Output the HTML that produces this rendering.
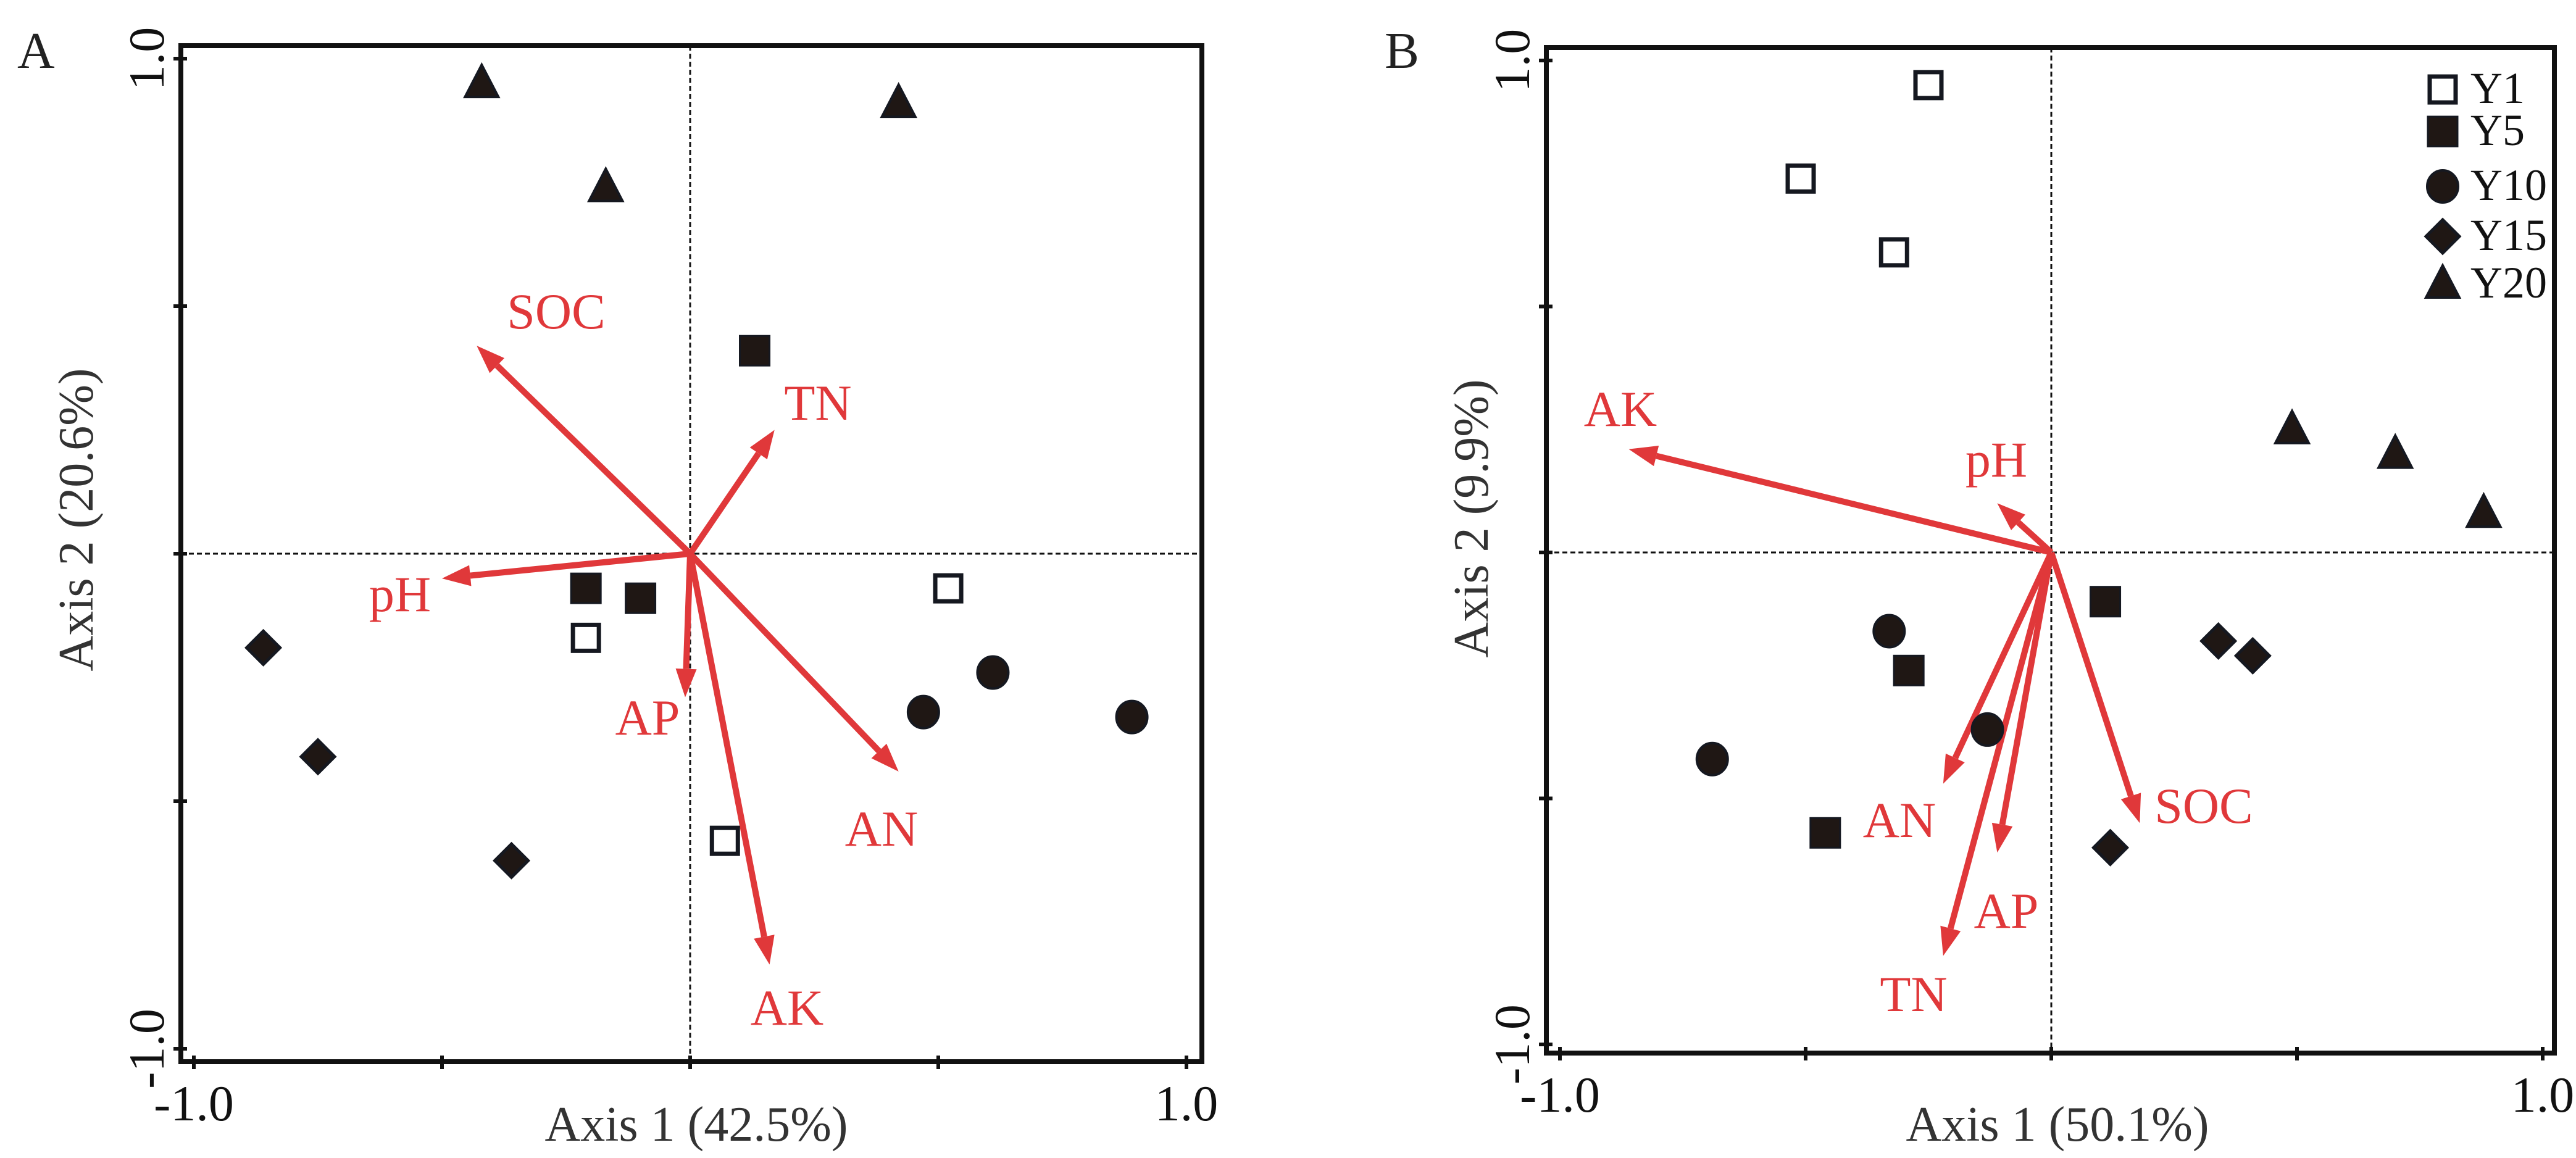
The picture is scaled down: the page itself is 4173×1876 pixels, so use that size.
<!DOCTYPE html>
<html><head><meta charset="utf-8"><style>
html,body{margin:0;padding:0;background:#fff}
svg{display:block}
text{font-family:"Liberation Serif",serif}
</style></head><body>
<svg id="fig" width="4173" height="1876" viewBox="0 0 4173 1876" xmlns="http://www.w3.org/2000/svg"></svg>
<script>
// ---- Panel A data ----
const groups = ["Y1","Y5","Y10","Y15","Y20"];
const shapesByGroup = ["openSquare","square","circle","diamond","triangle"];
const aY1x = [0.52,-0.21,0.07];  const aY1y = [-0.07,-0.17,-0.58];
const aY5x = [0.13,-0.21,-0.10]; const aY5y = [0.41,-0.07,-0.09];
const aY10x = [0.47,0.61,0.89];  const aY10y = [-0.32,-0.24,-0.33];
const aY15x = [-0.86,-0.75,-0.36]; const aY15y = [-0.19,-0.41,-0.62];
const aY20x = [-0.42,-0.17,0.42]; const aY20y = [0.95,0.74,0.91];
const aVarNames = ["SOC","TN","pH","AP","AN","AK"];
const aVarX = [-0.43,0.17,-0.50,-0.01,0.42,0.16];
const aVarY = [0.42,0.25,-0.05,-0.29,-0.44,-0.83];
// ---- Panel B data ----
const bY1x = [-0.25,-0.51,-0.32]; const bY1y = [0.95,0.76,0.61];
const bY5x = [0.11,-0.29,-0.46];  const bY5y = [-0.10,-0.24,-0.57];
const bY10x = [-0.33,-0.13,-0.69]; const bY10y = [-0.16,-0.36,-0.42];
const bY15x = [0.34,0.41,0.12];   const bY15y = [-0.18,-0.21,-0.60];
const bY20x = [0.49,0.70,0.88];   const bY20y = [0.25,0.20,0.08];
const bVarNames = ["AK","pH","AN","AP","TN","SOC"];
const bVarX = [-0.86,-0.11,-0.22,-0.11,-0.22,0.18];
const bVarY = [0.21,0.10,-0.47,-0.61,-0.82,-0.55];
const tickVals = [-1,-0.5,0,0.5,1];
const tickLabels = ["-1.0","","","","1.0"];

const NS="http://www.w3.org/2000/svg";
const svg=document.getElementById('fig');
function el(tag,attrs,parent){const e=document.createElementNS(NS,tag);for(const k in attrs)e.setAttribute(k,attrs[k]);(parent||svg).appendChild(e);return e;}
const RED="#e0383a";

function panel(cfg){
  const g=el('g',{});
  
  
  const sx=v=>cfg.x0+v*cfg.ux, sy=v=>cfg.y0-v*cfg.uy;
  const fr=el('rect',{x:cfg.L,y:cfg.T,width:cfg.R-cfg.L,height:cfg.B-cfg.T,fill:'none',stroke:'#111','stroke-width':8},g);
  
  const h=el('line',{x1:cfg.L,x2:cfg.R,y1:sy(0),y2:sy(0),stroke:'#111','stroke-width':3,'stroke-dasharray':'8,5'},g);
  
  const v=el('line',{x1:sx(0),x2:sx(0),y1:cfg.T,y2:cfg.B,stroke:'#111','stroke-width':3,'stroke-dasharray':'8,5'},g);
  
  tickVals.forEach((t,i)=>{
    const tx=el('line',{x1:sx(t),x2:sx(t),y1:cfg.B-10,y2:cfg.B+12,stroke:'#111','stroke-width':6},g);
    
    const ty=el('line',{x1:cfg.L-12,x2:cfg.L+10,y1:sy(t),y2:sy(t),stroke:'#111','stroke-width':6},g);
    
    if(tickLabels[i]){
      const lx=el('text',{x:sx(t),y:cfg.B+95,'font-size':82,'text-anchor':'middle',fill:'#111'},g);
      lx.textContent=tickLabels[i];
      
      const ly=el('text',{x:0,y:0,'font-size':82,'text-anchor':'middle',fill:'#111',transform:`translate(${cfg.L-28},${sy(t)}) rotate(-90)`},g);
      ly.textContent=tickLabels[i];
      
    }
  });
  const xt=el('text',{x:sx(0)+10,y:1848,'font-size':80,'text-anchor':'middle',fill:'#333'},g);
  xt.textContent=cfg.xTitle;
  const yt=el('text',{x:0,y:0,'font-size':80,'text-anchor':'middle',fill:'#333',transform:`translate(${cfg.yTitleX},${sy(0)-55}) rotate(-90)`},g);
  yt.textContent=cfg.yTitle;
  const pl=el('text',{x:cfg.letterX,y:110,'font-size':84,fill:'#222'},g);
  pl.textContent=cfg.letter;
  cfg.varNames.forEach((n,i)=>{
    const x2=sx(cfg.varX[i]),y2=sy(cfg.varY[i]),x1=sx(0),y1=sy(0);
    const ang=Math.atan2(y2-y1,x2-x1),L=46,W=17;
    const bx=x2-L*Math.cos(ang),by=y2-L*Math.sin(ang);
    const ln=el('line',{x1:x1,y1:y1,x2:bx,y2:by,stroke:RED,'stroke-width':10},g);
    
    const p=el('polygon',{points:`${x2},${y2} ${bx-W*Math.sin(ang)},${by+W*Math.cos(ang)} ${bx+W*Math.sin(ang)},${by-W*Math.cos(ang)}`,fill:RED},g);
    
    const lp=cfg.labelPos[i];
    const t=el('text',{x:lp[0],y:lp[1],'font-size':82,'text-anchor':'middle',fill:RED},g);
    t.textContent=n;
  });
  cfg.pts.forEach((grp,gi)=>{
    grp[0].forEach((vx,j)=>{
      const m=marker(shapesByGroup[gi],sx(vx),sy(grp[1][j]),g);
      
      
    });
  });
}
function marker(shape,x,y,g){
  const s=24;
  if(shape==='openSquare')return el('rect',{x:x-s+3,y:y-s+3,width:2*s-6,height:2*s-6,fill:'#fff',stroke:'#151820','stroke-width':7},g);
  if(shape==='square')return el('rect',{x:x-s,y:y-s,width:2*s,height:2*s,fill:'#1f1714',stroke:'#151820','stroke-width':3},g);
  if(shape==='circle')return el('ellipse',{cx:x,cy:y,rx:25,ry:26,fill:'#1f1714',stroke:'#151820','stroke-width':4},g);
  if(shape==='diamond')return el('polygon',{points:`${x},${y-27} ${x+27},${y} ${x},${y+27} ${x-27},${y}`,fill:'#1f1714',stroke:'#151820','stroke-width':5},g);
  return el('polygon',{points:`${x},${y-30} ${x+27},${y+22} ${x-27},${y+22}`,fill:'#1f1714',stroke:'#151820','stroke-width':4},g);
}
panel({name:'panel-a',letter:'A',letterX:28,L:293,R:1947,T:74,B:1720,x0:1118,ux:804,y0:897,uy:802,
  xTitle:'Axis 1 (42.5%)',yTitle:'Axis 2 (20.6%)',yTitleX:150,
  varNames:aVarNames,varX:aVarX,varY:aVarY,
  labelPos:[[901,532],[1325,680],[648,990],[1049,1190],[1428,1370],[1275,1660]],
  pts:[[aY1x,aY1y],[aY5x,aY5y],[aY10x,aY10y],[aY15x,aY15y],[aY20x,aY20y]]});
panel({name:'panel-b',letter:'B',letterX:2243,L:2505,R:4138,T:77,B:1706,x0:3323,ux:796,y0:895,uy:797,
  xTitle:'Axis 1 (50.1%)',yTitle:'Axis 2 (9.9%)',yTitleX:2410,
  varNames:bVarNames,varX:bVarX,varY:bVarY,
  labelPos:[[2625,690],[3234,772],[3077,1356],[3250,1503],[3100,1638],[3570,1333]],
  pts:[[bY1x,bY1y],[bY5x,bY5y],[bY10x,bY10y],[bY15x,bY15y],[bY20x,bY20y]]});
const lg=el('g',{});


const legRowY=[145,213,302,383,460];
groups.forEach((gname,i)=>{
  const m=marker(shapesByGroup[i],3957,legRowY[i],lg);
  
  
  const t=el('text',{x:4002,y:legRowY[i]+22,'font-size':72,fill:'#111'},lg);
  t.textContent=gname;
  
  
});
</script>
</body></html>
